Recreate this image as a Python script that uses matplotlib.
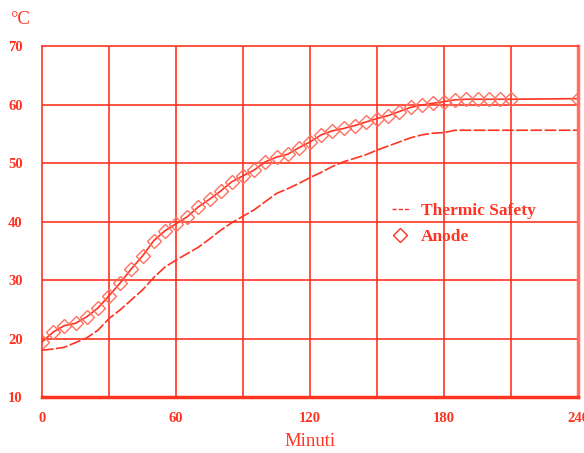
import matplotlib
matplotlib.use("Agg")
import matplotlib.pyplot as plt
from matplotlib.lines import Line2D

# anode temperature, read every 5 minutes (plus the last reading at 240)
anode_t = [0, 5, 10, 15, 20, 25, 30, 35, 40, 45, 50, 55, 60, 65, 70, 75, 80, 85,
           90, 95, 100, 105, 110, 115, 120, 125, 130, 135, 140, 145, 150, 155, 160,
           165, 170, 175, 180, 185, 190, 195, 200, 205, 210, 240]
anode_v = [19.4, 21.1, 22.2, 22.6, 23.7, 25.2, 27.3, 29.5, 31.9, 34.1, 36.7, 38.4,
           39.6, 40.8, 42.5, 43.8, 45.2, 46.8, 47.8, 48.8, 50.2, 51.0, 51.5, 52.6,
           53.6, 54.8, 55.5, 55.9, 56.4, 57.0, 57.6, 58.1, 58.8, 59.5, 59.9, 60.2,
           60.5, 60.8, 60.9, 60.9, 60.9, 60.9, 60.9, 61.0]

# thermic safety
safety_t = [0, 5, 10, 15, 20, 25, 30, 35, 40, 45, 50, 55, 60, 65, 70, 75, 80, 85,
            90, 95, 100, 105, 110, 115, 120, 125, 130, 135, 140, 145, 150, 155, 160,
            165, 170, 175, 180, 185, 240]
safety_v = [18.0, 18.2, 18.5, 19.3, 20.1, 21.4, 23.4, 24.9, 26.6, 28.3, 30.4, 32.2,
            33.4, 34.5, 35.6, 37.0, 38.5, 39.8, 40.9, 42.0, 43.4, 44.8, 45.6, 46.5,
            47.5, 48.4, 49.4, 50.2, 50.8, 51.4, 52.2, 52.9, 53.6, 54.3, 54.8, 55.1,
            55.2, 55.6, 55.6]

xticks = [0, 60, 120, 180, 240]
yticks = [10, 20, 30, 40, 50, 60, 70]

red = '#ff3322'
light = '#ff7060'

fig = plt.figure(figsize=(5.84, 4.53), dpi=100)
ax = fig.add_axes([42/584, 56/453, 536/584, 351/453])

for x in range(30, 240, 30):
    ax.axvline(x, color=red, lw=1.2, zorder=1)
for y in yticks[1:-1]:
    ax.axhline(y, color=red, lw=1.2, zorder=1)

ax.plot(safety_t, safety_v, color=red, lw=1.2, linestyle=(0, (7, 1.5)), zorder=3)
ax.plot(anode_t, anode_v, color=red, lw=1.2, marker='D', ms=7.5,
        mfc='none', mec=light, mew=1.0, zorder=4)

ax.set_xlim(0, 240)
ax.set_ylim(10, 70)
ax.set_xticks(xticks)
ax.set_yticks(yticks)
ax.tick_params(length=0, colors=red, labelsize=10.5)
ax.tick_params(axis='y', pad=14)
ax.tick_params(axis='x', pad=11)
for lab in ax.get_xticklabels() + ax.get_yticklabels():
    lab.set_fontfamily('Liberation Serif')
    lab.set_fontweight('bold')
    lab.set_color(red)

for s in ['left', 'top']:
    ax.spines[s].set_color(red)
    ax.spines[s].set_linewidth(1.2)
ax.spines['bottom'].set_color(red)
ax.spines['bottom'].set_linewidth(2.5)
ax.spines['right'].set_color(light)
ax.spines['right'].set_linewidth(2.5)
for s in ax.spines.values():
    s.set_zorder(5)

fig.text(310/584, 1 - 442/453, 'Minuti', fontfamily='Liberation Serif', fontsize=13.5,
         color=red, va='center', ha='center')
fig.text(10/584, 1 - 20/453, '°C', fontfamily='Liberation Serif', fontsize=13.5,
         color=red, va='center', ha='left')

handles = [Line2D([], [], color=red, lw=1, linestyle=(0, (3, 1.5))),
           Line2D([], [], color='none', marker='D', ms=7.5, mfc='none', mec=red, mew=1.0)]
leg = ax.legend(handles, ['Thermic Safety', 'Anode'], loc='center left',
                bbox_to_anchor=(376/584, 1 - 224/453), bbox_transform=fig.transFigure,
                frameon=False, handlelength=1.0, handletextpad=0.7, labelspacing=0.55,
                prop={'family': 'Liberation Serif', 'weight': 'bold', 'size': 12.5})
for t in leg.get_texts():
    t.set_color(red)

fig.savefig('out.png', dpi=100)
